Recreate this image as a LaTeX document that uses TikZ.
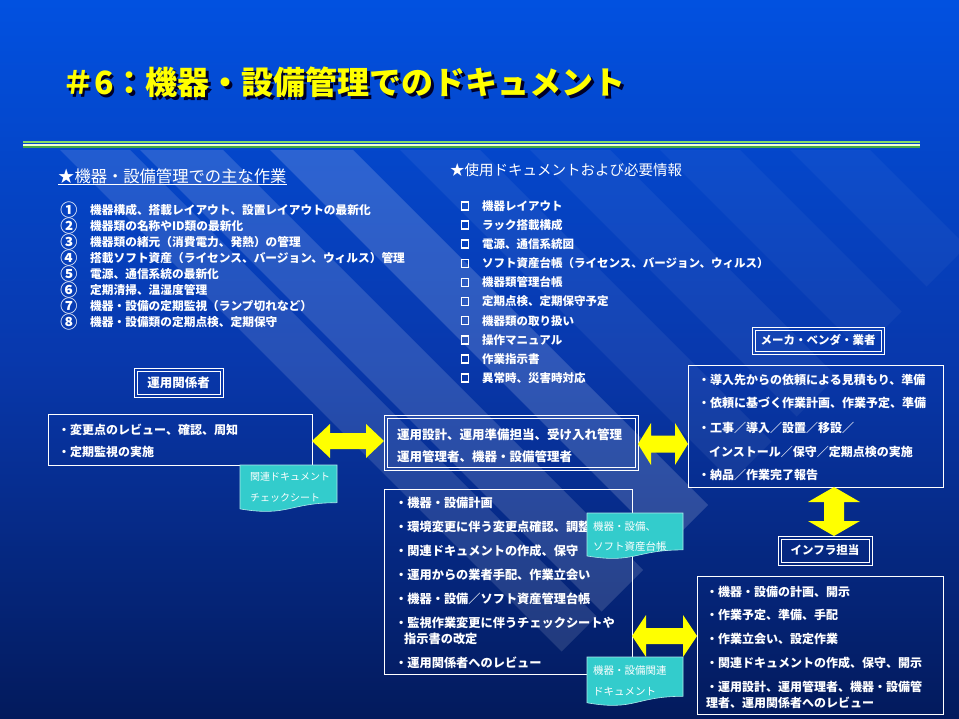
\documentclass[tikz,border=0pt]{standalone}
\usepackage{fontspec}
\usepackage{graphicx}
\setmainfont{Noto Sans CJK JP}
\usetikzlibrary{calc}
\definecolor{bg0}{RGB}{0,4,22}
\definecolor{bg1}{RGB}{3,26,92}
\definecolor{bg2}{RGB}{8,56,172}
\definecolor{bg3}{RGB}{0,86,235}
\definecolor{bg4}{RGB}{0,104,255}
\definecolor{docfill}{RGB}{51,204,204}
\definecolor{arrowyel}{RGB}{255,255,0}
\definecolor{titleyel}{RGB}{255,255,0}
\definecolor{titleshadow}{RGB}{0,0,40}
\definecolor{lineA}{RGB}{136,221,102}
\definecolor{lineB}{RGB}{240,255,208}
\definecolor{lineC}{RGB}{68,170,68}
\pgfdeclareverticalshading{bgshade}{100bp}{color(0bp)=(bg0); color(25bp)=(bg1); color(50bp)=(bg2); color(80bp)=(bg3); color(100bp)=(bg4)}
\tikzset{
  txt/.style={text=white, inner sep=0pt, anchor=west, font=\bfseries\fontsize{12}{14}\selectfont},
  box/.style={draw=white, line width=0.9pt, inner sep=0pt, outer sep=0pt},
  lbl/.style={box, text=white, font=\bfseries\fontsize{11.5}{13}\selectfont},
  chk/.style={draw=white, line width=1.6pt, minimum width=7pt, minimum height=8pt, inner sep=0pt},
  doctxt/.style={text=white, inner sep=0pt, anchor=west, font=\fontsize{10.5}{12}\selectfont},
  docshape/.style={fill=docfill, draw=white!60!docfill, line width=0.6pt},
  arr/.style={fill=arrowyel},
  ttl/.style={inner sep=0pt, anchor=west, font=\bfseries\fontsize{32}{36}\selectfont},
  hd/.style={text=white, inner sep=0pt, anchor=west},
}
\newcommand{\titletext}{＃6：機器・設備管理でのドキュメント}
\newcommand{\dblharrow}[5]{\fill[arr] (#1) -- ++(#3,-#4) -- ++(0,{#4-#5}) -- ($(#2)+(-#3,-#5)$) -- ++(0,{#5-#4}) -- (#2) -- ++(-#3,#4) -- ++(0,{#5-#4}) -- ($(#1)+(#3,#5)$) -- ++(0,{#4-#5}) -- cycle;}
\newcommand{\dblvarrow}[5]{\fill[arr] (#1) -- ++(#4,#3) -- ++({#5-#4},0) -- ($(#2)+(#5,-#3)$) -- ++({#4-#5},0) -- (#2) -- ++(-#4,-#3) -- ++({#4-#5},0) -- ($(#1)+(-#5,#3)$) -- ++({#5-#4},0) -- cycle;}
\newcommand{\docpath}[4]{\path[docshape] (#1,#2) -- ({#1+#3},#2) -- ({#1+#3},{#2+0.802*#4}) .. controls ({#1+0.5*#3},{#2+0.802*#4}) and ({#1+0.5*#3},{#2+1.107*#4}) .. (#1,{#2+0.934*#4}) -- cycle;}
\begin{document}
\begin{tikzpicture}[x=1pt,y=-1pt]
\useasboundingbox (0,0) rectangle (959,719);
% background
\shade[shading=bgshade] (0,0) rectangle (959,719);
\begin{scope}
\clip (0,150) -- (959,150) -- (959,254) -- (494,719) -- (0,719) -- cycle;
\foreach \ca/\cb/\op in {-203/-120/0.16, -73/10/0.14, 20/90/0.12, -330/-250/0.06, -460/-380/0.05, -590/-510/0.04, -720/-640/0.04}{
  \fill[white, opacity=\op] ({150-\ca},150) -- ({150-\cb},150) -- ({719-\cb},719) -- ({719-\ca},719) -- cycle;
}
\end{scope}
% rule lines
\draw[lineA, line width=2pt] (23,141.7) -- (920,141.7);
\draw[lineB, line width=1.4pt] (23,145) -- (920,145);
\draw[lineC, line width=2pt] (23,147.3) -- (920,147.3);
% title with drop shadow (one node)
\node[ttl, text=titleyel] (title) at (62,84) {\rlap{\hspace{2.5pt}\raisebox{-2.5pt}{\color{titleshadow}\titletext}}\titletext};
% headings
\node[hd, font=\fontsize{16.3}{18}\selectfont] (h1) at (58,176) {★機器・設備管理での主な作業};
\draw[white, line width=0.9pt] ([yshift=-8pt]h1.west) -- ([yshift=-8pt]h1.east);
\node[hd, font=\fontsize{14.5}{16}\selectfont] (h2) at (450,170) {★使用ドキュメントおよび必要情報};
% left list
\foreach \n/\t [count=\i] in {①/機器構成、搭載レイアウト、設置レイアウトの最新化, ②/機器類の名称やID類の最新化, ③/機器類の緒元（消費電力、発熱）の管理, ④/搭載ソフト資産（ライセンス、バージョン、ウィルス）管理, ⑤/電源、通信系統の最新化, ⑥/定期清掃、温湿度管理, ⑦/機器・設備の定期監視（ランプ切れなど）, ⑧/機器・設備類の定期点検、定期保守}{
  \node[txt, anchor=center, font=\bfseries\fontsize{11}{13}\selectfont] (ln\i) at (69,{194+16*\i}) {\scalebox{1.55}{\n}};
  \node[txt, font=\bfseries\fontsize{11.7}{13}\selectfont] (lt\i) at (90,{194+16*\i}) {\t};
}
% right list
\foreach \t [count=\i] in {機器レイアウト, ラック搭載構成, 電源、通信系統図, ソフト資産台帳（ライセンス、バージョン、ウィルス）, 機器類管理台帳, 定期点検、定期保守予定, 機器類の取り扱い, 操作マニュアル, 作業指示書, 異常時、災害時対応}{
  \node[chk] (rc\i) at (465,{187+19.1*\i}) {};
  \node[txt, font=\bfseries\fontsize{11.5}{13}\selectfont] (rl\i) at (482,{187+19.1*\i}) {\t};
}
% boxes
\node[box, minimum width=264pt, minimum height=51pt] (boxL) at (180,439.5) {};
\node[box, minimum width=254pt, minimum height=55pt] (boxCT) at (511,442.5) {};
\node[box, minimum width=248pt, minimum height=185pt] (boxCB) at (508,581.5) {};
\node[box, minimum width=255pt, minimum height=122pt] (boxRT) at (815.5,426) {};
\node[box, minimum width=246pt, minimum height=138pt] (boxRB) at (820,645) {};
\node[lbl, minimum width=89pt, minimum height=29pt, font=\bfseries\fontsize{12.5}{14}\selectfont] (lblKR) at (178.5,382.5) {運用関係者};
\node[lbl, minimum width=132pt, minimum height=27pt] (lblMK) at (818,340.5) {メーカ・ベンダ・業者};
\node[lbl, minimum width=94pt, minimum height=29pt] (lblINF) at (825,550.5) {インフラ担当};
\foreach \b in {boxCT, lblKR, lblMK, lblINF}{
  \draw[white, line width=0.9pt] ([shift={(3,3)}]\b.north west) rectangle ([shift={(-3,-3)}]\b.south east);
}
% box texts
\node[txt] (tL1) at (58,430) {・変更点のレビュー、確認、周知};
\node[txt] (tL2) at (58,452) {・定期監視の実施};
\node[txt, font=\bfseries\fontsize{12.5}{14}\selectfont] (tCT1) at (397,435) {運用設計、運用準備担当、受け入れ管理};
\node[txt, font=\bfseries\fontsize{12.5}{14}\selectfont] (tCT2) at (397,457) {運用管理者、機器・設備管理者};
\begin{scope}[every node/.style={txt, font=\bfseries\fontsize{12.2}{14}\selectfont}]
\node (tCB1) at (395,503) {・機器・設備計画};
\node (tCB2) at (395,527) {・環境変更に伴う変更点確認、調整};
\node (tCB3) at (395,551) {・関連ドキュメントの作成、保守};
\node (tCB4) at (395,575) {・運用からの業者手配、作業立会い};
\node (tCB5) at (395,599) {・機器・設備／ソフト資産管理台帳};
\node (tCB6) at (395,623) {・監視作業変更に伴うチェックシートや};
\node (tCB7) at (404,639) {指示書の改定};
\node (tCB8) at (395,663) {・運用関係者へのレビュー};
\end{scope}
\node[txt] (tRT1) at (698,380) {・導入先からの依頼による見積もり、準備};
\node[txt] (tRT2) at (698,403) {・依頼に基づく作業計画、作業予定、準備};
\node[txt] (tRT3) at (698,428) {・工事／導入／設置／移設／};
\node[txt] (tRT4) at (709,452) {インストール／保守／定期点検の実施};
\node[txt] (tRT5) at (698,475) {・納品／作業完了報告};
\node[txt] (tRB1) at (706,592) {・機器・設備の計画、開示};
\node[txt] (tRB2) at (706,615) {・作業予定、準備、手配};
\node[txt] (tRB3) at (706,639) {・作業立会い、設定作業};
\node[txt] (tRB4) at (706,663) {・関連ドキュメントの作成、保守、開示};
\node[txt] (tRB5) at (706,687) {・運用設計、運用管理者、機器・設備管};
\node[txt] (tRB6) at (706,703) {理者、運用関係者へのレビュー};
% arrows
\coordinate (a1) at (348,441);
\coordinate (a2) at (664,444);
\coordinate (a3) at (834,511);
\coordinate (a4) at (664,636);
\dblharrow{boxL.east |- a1}{boxCT.west |- a1}{18}{17}{8}
\dblharrow{boxCT.east |- a2}{boxRT.west |- a2}{13}{21}{8.5}
\dblvarrow{a3 |- boxRT.south}{a3 |- lblINF.north}{15}{26}{10}
\dblharrow{boxCB.east |- a4}{boxRB.west |- a4}{14}{21}{8}
% document shapes
\docpath{240}{465}{97}{47}
\docpath{587}{513}{96}{46}
\docpath{587}{657}{96}{49}
\node[doctxt, font=\fontsize{10}{12}\selectfont] (d1a) at (250,477) {関連ドキュメント};
\node[doctxt, font=\fontsize{10}{12}\selectfont] (d1b) at (250,498) {チェックシート};
\node[doctxt] (d2a) at (593,527) {機器・設備、};
\node[doctxt] (d2b) at (593,547) {ソフト資産台帳};
\node[doctxt] (d3a) at (593,671) {機器・設備関連};
\node[doctxt] (d3b) at (593,692) {ドキュメント};
\end{tikzpicture}
\end{document}
